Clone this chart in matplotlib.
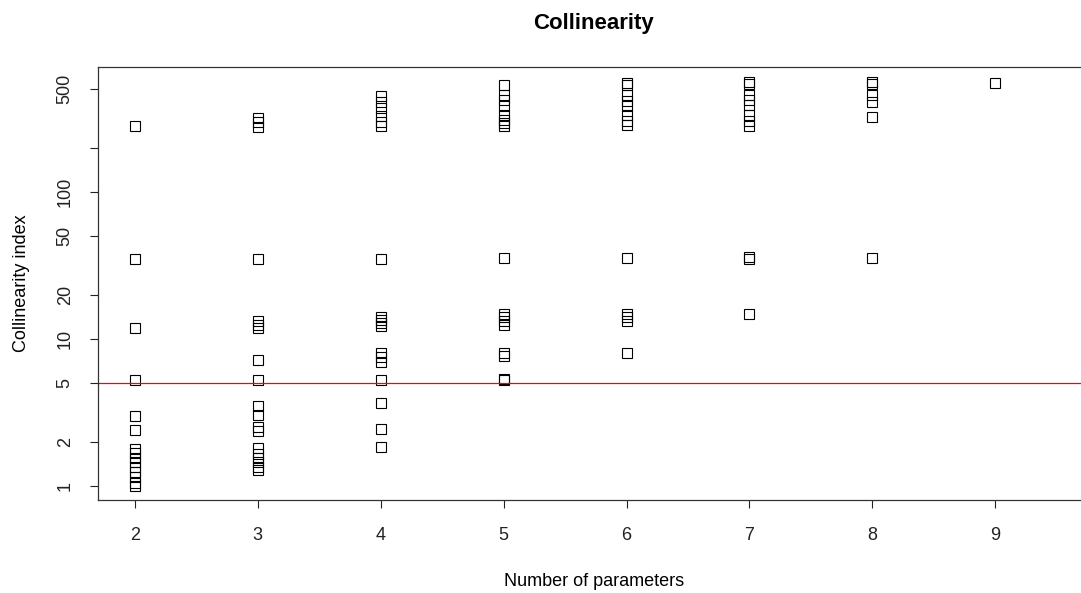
import numpy as np
import matplotlib.pyplot as plt

# collinearity index per model, grouped by number of parameters
ci_2 = [281, 35.2, 11.8, 5.3, 3.0, 2.4, 1.78, 1.68, 1.55, 1.45, 1.35, 1.25, 1.15, 1.05, 1.0]
ci_3 = [320, 298, 275, 35.2, 13.3, 12.5, 11.8, 7.2, 5.3, 3.5, 3.05, 2.5, 2.35, 1.8, 1.65, 1.55, 1.45, 1.35, 1.28]
ci_4 = [450, 410, 375, 330, 300, 280, 35.2, 14.2, 13.5, 12.8, 12.2, 8.0, 7.5, 7.0, 5.3, 3.65, 2.45, 1.85]
ci_5 = [535, 460, 420, 385, 335, 310, 295, 280, 35.3, 14.8, 14.0, 13.2, 12.4, 8.0, 7.7, 5.35, 5.25]
ci_6 = [555, 535, 455, 415, 385, 335, 305, 285, 35.3, 14.8, 14.0, 13.2, 8.0]
ci_7 = [560, 540, 460, 420, 390, 335, 305, 282, 36.0, 34.8, 14.8]
ci_8 = [560, 540, 455, 410, 325, 35.8]
ci_9 = [550]

groups = [2, 3, 4, 5, 6, 7, 8, 9]
ci_groups = [ci_2, ci_3, ci_4, ci_5, ci_6, ci_7, ci_8, ci_9]

threshold = 5
y_ticks = [1, 2, 5, 10, 20, 50, 100, 200, 500]
y_ticklabels = ["1", "2", "5", "10", "20", "50", "100", "", "500"]

plt.rcParams["font.family"] = ["Liberation Sans", "DejaVu Sans"]

fig = plt.figure(figsize=(10.81, 5.93), dpi=100)
ax = fig.add_axes([98 / 1081, 1 - 500 / 593, 992 / 1081, 433 / 593])

for n, ci in zip(groups, ci_groups):
    ax.plot([n] * len(ci), ci, linestyle="none", marker="s", markersize=6.5,
            markerfacecolor="none", markeredgecolor="black", markeredgewidth=0.8)

ax.axhline(threshold, color="red", linewidth=0.9)

ax.set_yscale("log")
ax.set_ylim(0.803, 708)
ax.set_xlim(1.70, 9.77)

ax.set_yticks(y_ticks)
ax.set_yticklabels(y_ticklabels, rotation=90, va="center")
ax.minorticks_off()
ax.set_xticks(groups)

ax.tick_params(direction="out", length=5.5, width=0.8, labelsize=13, colors="#222222")
ax.tick_params(axis="x", pad=14)
ax.tick_params(axis="y", pad=12)
for sp in ax.spines.values():
    sp.set_linewidth(0.9)
    sp.set_color("#333333")

ax.set_title("Collinearity", fontsize=16, fontweight="bold", pad=27)
ax.set_xlabel("Number of parameters", fontsize=13, labelpad=21)
ax.set_ylabel("Collinearity index", fontsize=13, labelpad=19)

fig.savefig("out.png", dpi=100)
